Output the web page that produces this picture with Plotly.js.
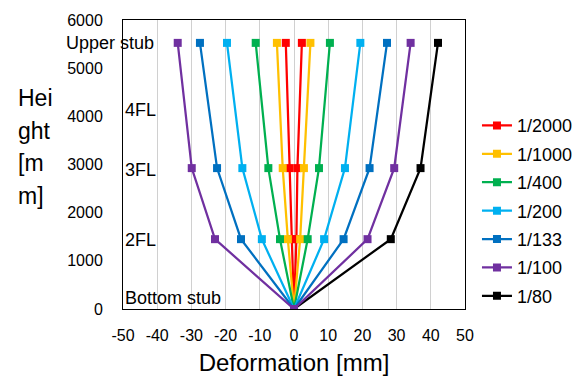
<!DOCTYPE html>
<html><head><meta charset="utf-8">
<script src="https://cdn.plot.ly/plotly-3.0.1.min.js"></script>
<style>html,body{margin:0;padding:0;background:#fff}#chart{width:579px;height:379px}</style>
</head><body><div id="chart"></div>
<script>
const seriesNames = ["1/2000","1/1000","1/400","1/200","1/133","1/100","1/80"];
const colors = ["#FF0000","#FFC000","#00B050","#00B0F0","#0070C0","#7030A0","#000000"];
// heights: Upper stub, 3FL, 2FL, Bottom stub
const heightsBoth = [5525, 2925, 1450, 0, 1450, 2925, 5525];
const heightsRight = [0, 1450, 2925, 5525];
const d2000 = [-2.4, -1.3, -0.7, 0, 0.7, 1.0, 2.3];
const d1000 = [-5.0, -3.3, -1.8, 0, 1.8, 2.9, 4.8];
const d400  = [-11.2, -7.5, -4.1, 0, 4.0, 7.3, 10.5];
const d200  = [-19.6, -15.1, -9.4, 0, 8.8, 14.9, 19.4];
const d133  = [-27.5, -22.5, -15.5, 0, 14.5, 22.1, 27.2];
const d100  = [-34.0, -29.9, -23.1, 0, 21.5, 29.3, 34.1];
const d80   = [0, 28.3, 37.0, 42.1];
const xTicks = [-50,-40,-30,-20,-10,0,10,20,30,40,50];
const yTicks = [0,1000,2000,3000,4000,5000,6000];
const yTitleLines = ["Hei","ght","[m","m]"];

const xs = [d2000,d1000,d400,d200,d133,d100,d80];
const order = [0,1,2,3,4,6,5];
const traces = order.map(i => ({
  x: xs[i], y: i === 6 ? heightsRight : heightsBoth,
  type: "scatter", mode: "lines+markers", name: seriesNames[i],
  legendrank: i + 1, legendgroup: "g" + i,
  line: {color: colors[i], width: 2.25},
  marker: {color: colors[i], symbol: "square", size: 8}
}));

const font = "Liberation Sans, Arial, sans-serif";
const yTitleAnn = yTitleLines.map((t, k) => ({
  text: t, xref: "paper", yref: "paper", x: -0.312, y: (309 - (98 + k * 32.5)) / 289,
  xanchor: "left", yanchor: "middle", showarrow: false, font: {size: 23}
}));
const layout = {
  width: 579, height: 379,
  margin: {l: 123, r: 114, t: 20, b: 70, autoexpand: false},
  paper_bgcolor: "#fff", plot_bgcolor: "#fff",
  font: {family: font, size: 16, color: "#000"},
  showlegend: true,
  legend: {x: 1.035, y: 0.34, xanchor: "left", yanchor: "middle",
           font: {size: 18}, tracegroupgap: 2, itemwidth: 30, bgcolor: "rgba(0,0,0,0)"},
  xaxis: {
    range: [-50, 50], tickvals: xTicks, ticktext: xTicks.map(String),
    showgrid: true, gridcolor: "#d0d0d0", gridwidth: 1,
    zeroline: false, showline: true, linecolor: "#000", linewidth: 1, mirror: true,
    ticks: "", ticklabelstandoff: 12, tickfont: {size: 16},
    title: {text: "Deformation [mm]", font: {size: 24}, standoff: 10}
  },
  yaxis: {
    range: [0, 6000], tickvals: yTicks, ticktext: yTicks.map(String),
    showgrid: false, zeroline: false, showline: true, linecolor: "#000", linewidth: 1, mirror: true,
    ticks: "", ticklabelstandoff: 16, tickfont: {size: 16}
  },
  annotations: yTitleAnn.concat([
    {text: "Upper stub", xref: "paper", yref: "y", x: -0.1725, y: 5525, xanchor: "left", yanchor: "middle", showarrow: false, font: {size: 18}},
    {text: "4FL", xref: "paper", yref: "y", x: 0.0, y: 4130, xanchor: "left", yanchor: "middle", showarrow: false, font: {size: 18}},
    {text: "3FL", xref: "paper", yref: "y", x: 0.0, y: 2890, xanchor: "left", yanchor: "middle", showarrow: false, font: {size: 18}},
    {text: "2FL", xref: "paper", yref: "y", x: 0.0, y: 1430, xanchor: "left", yanchor: "middle", showarrow: false, font: {size: 18}},
    {text: "Bottom stub", xref: "paper", yref: "y", x: 0.0, y: 230, xanchor: "left", yanchor: "middle", showarrow: false, font: {size: 18}}
  ])
};
Plotly.newPlot("chart", traces, layout, {displayModeBar: false, staticPlot: true});
</script></body></html>
